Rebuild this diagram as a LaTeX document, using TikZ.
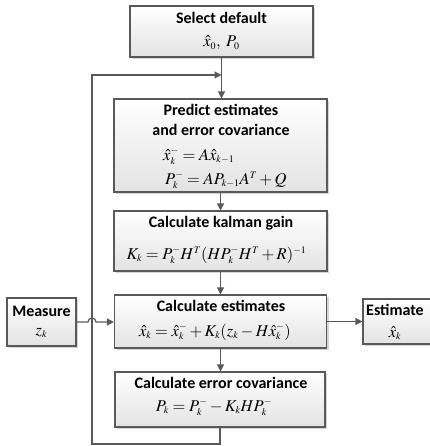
\documentclass[tikz,border=0pt]{standalone}
\usepackage{mathptmx}
\usepackage[no-math]{fontspec}
\setmainfont{Carlito}
\DeclareMathSizes{16.5}{16.5}{10}{7.5}
\usetikzlibrary{arrows.meta,shadows,calc}
\definecolor{edge}{HTML}{595959}
\tikzset{
  box/.style={draw=edge, line width=1.1pt, top color=white, bottom color=black!11,
    drop shadow={shadow xshift=2pt, shadow yshift=-2pt, fill=black!17, opacity=1},
    inner sep=0pt, anchor=center},
  ttl/.style={font=\fontsize{16}{18}\selectfont\bfseries, inner sep=0pt},
  eqn/.style={font=\fontsize{16.5}{18}\selectfont, inner sep=0pt},
  flow/.style={draw=edge, line width=1.2pt, -{Triangle[length=7pt,width=7pt]}},
}
\begin{document}
\begin{tikzpicture}[x=1pt,y=-1pt]
\useasboundingbox (0,0) rectangle (429,446);
% boxes
\node[box, minimum width=183pt, minimum height=51pt] (sel) at (221.5,31.5) {};
\node[box, minimum width=213pt, minimum height=93pt] (pred) at (220.5,145.5) {};
\node[box, minimum width=213pt, minimum height=60pt] (kal) at (220.5,241) {};
\node[box, minimum width=212pt, minimum height=53pt] (calc) at (220.5,321.5) {};
\node[box, minimum width=210pt, minimum height=55pt] (err) at (220,399.5) {};
\node[box, minimum width=69pt, minimum height=48pt] (meas) at (41.5,322) {};
\node[box, minimum width=80pt, minimum height=45pt] (est) at (403,321.5) {};
% texts
\node[ttl] (selT) at (221.5,18) {Select default};
\node[eqn] (selM) at (221.5,43) {$\hat{x}_0,\ P_0$};
\node[ttl] (predT1) at (221,110) {Predict estimates};
\node[ttl] (predT2) at (221,130) {and error covariance};
\node[eqn, anchor=west] (predM1) at (163,156) {$\hat{x}_k^{-} = A\hat{x}_{k-1}$};
\node[eqn, anchor=west] (predM2) at (165,180) {$P_k^{-} = AP_{k-1}A^T + Q$};
\node[ttl] (kalT) at (221,223) {Calculate kalman gain};
\node[eqn] (kalM) at (216.5,255) {$K_k = P_k^{-} H^T (HP_k^{-} H^T + R)^{-1}$};
\node[ttl] (calcT) at (221,306) {Calculate estimates};
\node[eqn] (calcM) at (215,332) {$\hat{x}_k = \hat{x}_k^{-} + K_k(z_k - H\hat{x}_k^{-})$};
\node[ttl] (errT) at (221,383) {Calculate error covariance};
\node[eqn] (errM) at (214,407) {$P_k = P_k^{-} - K_kHP_k^{-}$};
\node[ttl] (measT) at (41.5,311) {Measure};
\node[eqn] (measM) at (41.5,333) {$z_k$};
\node[ttl, anchor=west] (estT) at (366,310) {Estimate};
\node[eqn] (estM) at (395,333) {$\hat{x}_k$};
% connectors
\coordinate (lb) at (92,444);
\coordinate (lt) at (92,75);
\coordinate (jn) at (221.5,75);
\coordinate (hopA) at (88,322);
\draw[flow] (sel.south) -- (sel.south |- pred.north);
\draw[flow] (pred.south) -- (kal.north);
\draw[flow] (kal.south) -- (calc.north);
\draw[flow] (calc.south) -- (calc.south |- err.north);
\draw[flow] (err.south) |- (lb) -- (lt) -- (jn);
\draw[flow] (meas.east) -- (hopA) arc[start angle=180, end angle=0, radius=4pt] -- (calc.west |- meas.east);
\draw[flow] (calc.east |- est.west) -- (est.west);
\end{tikzpicture}
\end{document}
